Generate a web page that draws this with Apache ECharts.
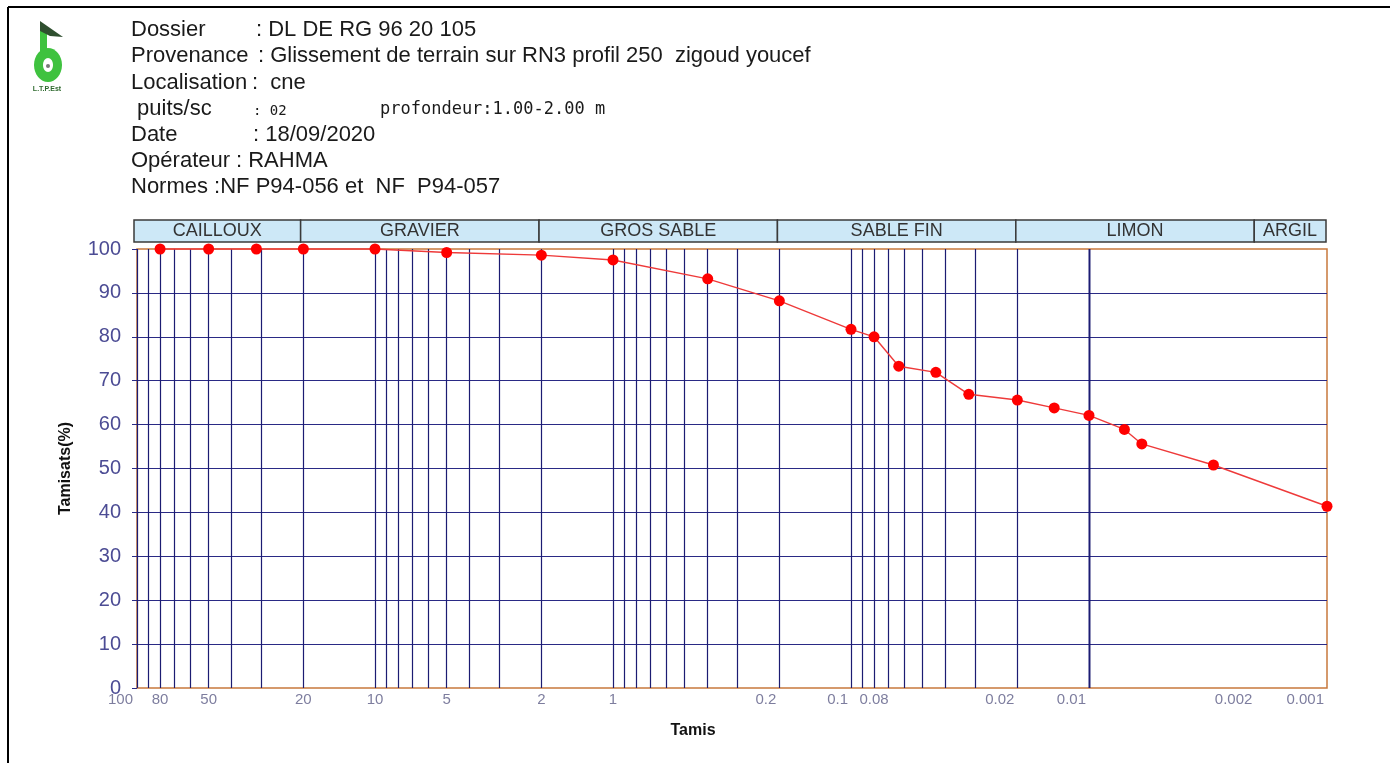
<!DOCTYPE html>
<html><head><meta charset="utf-8">
<script src="https://cdn.jsdelivr.net/npm/echarts@6/dist/echarts.min.js"></script>
<style>html,body{margin:0;padding:0;background:#fff}#c{width:1390px;height:763px}</style>
</head><body><div id="c"></div>
<script>
// ---- data ----
const sieveSizes = [80, 50, 31.5, 20, 10, 5, 2, 1, 0.4, 0.2, 0.1, 0.08, 0.063, 0.044, 0.032, 0.02, 0.014, 0.01, 0.0071, 0.006, 0.003, 0.001];
const passing    = [100, 100, 100, 100, 100, 99.2, 98.6, 97.5, 93.2, 88.2, 81.7, 80.0, 73.3, 71.9, 66.9, 65.6, 63.8, 62.1, 58.9, 55.6, 50.8, 41.4];
const gridSizes = [100, 90, 80, 70, 60, 50, 40, 30, 20, 10, 9, 8, 7, 6, 5, 4, 3, 2, 1, 0.9, 0.8, 0.7, 0.6, 0.5, 0.4, 0.3, 0.2,
                   0.1, 0.09, 0.08, 0.07, 0.06, 0.05, 0.04, 0.03, 0.02, 0.01, 0.009, 0.008, 0.007, 0.006, 0.005, 0.004, 0.003, 0.002];
const tickValues = [100, 80, 50, 20, 10, 5, 2, 1, 0.2, 0.1, 0.08, 0.02, 0.01, 0.002, 0.001];
const tickLabels = ['100', '80', '50', '20', '10', '5', '2', '1', '0.2', '0.1', '0.08', '0.02', '0.01', '0.002', '0.001'];
const bandNames = ['CAILLOUX', 'GRAVIER', 'GROS SABLE', 'SABLE FIN', 'LIMON', 'ARGIL'];
const bandBounds = [100, 20, 2, 0.2, 0.02, 0.002, 0.001];
const headerLabels = ['Dossier', 'Provenance', 'Localisation', ' puits/sc', 'Date', 'Opérateur', 'Normes :NF P94-056 et  NF  P94-057'];
const headerValues = [': DL DE RG 96 20 105', ': Glissement de terrain sur RN3 profil 250  zigoud youcef', ':  cne', ': 02', ': 18/09/2020', ': RAHMA', ''];
const depthText = 'profondeur:1.00-2.00 m';

// ---- layout ----
const FONT = 'Liberation Sans, Arial, sans-serif';
const headerY = [30, 56, 83, 109, 135, 161, 187];
const headerValueX = [256, 258, 252, 253, 253, 236, 0];

const chart = echarts.init(document.getElementById('c'), null, {renderer: 'canvas'});

const graphic = [
  {type: 'line', shape: {x1: 8, y1: 7, x2: 1390, y2: 7}, style: {stroke: '#000', lineWidth: 2}},
  {type: 'line', shape: {x1: 8, y1: 7, x2: 8, y2: 763}, style: {stroke: '#000', lineWidth: 2}},
  // logo
  {type: 'rect', shape: {x: 40, y: 30, width: 7, height: 32}, style: {fill: '#3fc23f'}},
  {type: 'ellipse', shape: {cx: 48, cy: 65, rx: 14, ry: 17}, style: {fill: '#3fc23f'}},
  {type: 'ellipse', shape: {cx: 48, cy: 65, rx: 5, ry: 7}, style: {fill: '#ffffff'}},
  {type: 'circle', shape: {cx: 48, cy: 66, r: 2}, style: {fill: '#777'}},
  {type: 'polygon', shape: {points: [[40, 21], [63, 37], [50, 36], [40, 31]]}, style: {fill: '#2f4f2f'}},
  {type: 'text', x: 47, y: 89, style: {text: 'L.T.P.Est', fill: '#2f6a2f', font: 'bold 7px ' + FONT, align: 'center', verticalAlign: 'middle'}},
];
headerLabels.forEach((t, i) => {
  graphic.push({type: 'text', x: 131, y: headerY[i], style: {text: t, fill: '#1a1a1a', font: '22px ' + FONT, verticalAlign: 'middle'}});
  if (!headerValues[i]) return;
  const small = i === 3;
  graphic.push({type: 'text', x: headerValueX[i], y: headerY[i] + (small ? 2 : 0), style: {text: headerValues[i], fill: '#1a1a1a', font: (small ? '14px DejaVu Sans Mono, monospace' : '22px ' + FONT), verticalAlign: 'middle'}});
});
graphic.push({type: 'text', x: 380, y: 110, style: {text: depthText, fill: '#1a1a1a', font: '17px DejaVu Sans Mono, monospace', verticalAlign: 'middle'}});

const tickData = tickValues.map((v, i) => {
  const lead = Number(v.toExponential().charAt(0));
  const right = v < 1 && (lead === 1 || lead === 2);
  const align = right ? 'right' : 'center';
  let off = right ? -3 : 0;
  if (v === 100) off = -4;
  return {value: [v, 0], label: {formatter: tickLabels[i], align: v === 100 ? 'right' : align, offset: [off, 0]}};
});

const option = {
  backgroundColor: '#fff',
  animation: false,
  graphic: graphic,
  grid: [
    {left: 137, right: 63, top: 249, bottom: 75, show: true, borderColor: '#c8783c', borderWidth: 1.5, backgroundColor: '#fff'},
    {left: 134, right: 64, top: 220, height: 22}
  ],
  xAxis: [
    {type: 'log', logBase: 10, min: 0.001, max: 100, inverse: true, gridIndex: 0,
     axisLine: {show: false}, axisTick: {show: false}, axisLabel: {show: false}, splitLine: {show: false},
     name: 'Tamis', nameLocation: 'middle', nameGap: 35,
     nameTextStyle: {color: '#111', fontWeight: 'bold', fontSize: 16, fontFamily: FONT, padding: [0, 78, 0, 0]}},
    {type: 'log', logBase: 10, min: 0.001, max: 100, inverse: true, gridIndex: 1, show: false}
  ],
  yAxis: [
    {type: 'value', min: 0, max: 100, interval: 10, gridIndex: 0,
     axisLine: {show: false},
     axisTick: {show: true, length: 5, lineStyle: {color: '#2a2a85'}},
     axisLabel: {color: '#4c4c94', fontSize: 20, fontFamily: FONT, margin: 16},
     splitLine: {show: true, showMinLine: false, showMaxLine: false, lineStyle: {color: '#2a2a85', width: 1.2}},
     name: 'Tamisats(%)', nameLocation: 'middle', nameGap: 63, nameRotate: 90,
     nameTextStyle: {color: '#111', fontWeight: 'bold', fontSize: 16, fontFamily: FONT}},
    {type: 'value', min: 0, max: 1, gridIndex: 1, show: false}
  ],
  series: [
    {
      name: 'grid', type: 'line', xAxisIndex: 0, yAxisIndex: 0, data: [], silent: true, z: 1,
      markLine: {
        silent: true, symbol: ['none', 'none'], animation: false,
        label: {show: false},
        lineStyle: {color: '#1c1c72', width: 1.2, type: 'solid'},
        emphasis: {disabled: true},
        data: gridSizes.map(v => ({xAxis: v}))
      }
    },
    {
      name: 'bands', type: 'line', xAxisIndex: 1, yAxisIndex: 1, data: [[1, 0.5]], symbol: 'none',
      lineStyle: {opacity: 0}, silent: true,
      markArea: {
        silent: true,
        itemStyle: {color: '#cde8f7', borderColor: '#3a3a3a', borderWidth: 1.5},
        label: {show: true, position: 'inside', color: '#333', fontSize: 18, fontFamily: FONT},
        emphasis: {disabled: true},
        data: bandNames.map((n, i) => [{name: n, xAxis: bandBounds[i]}, {xAxis: bandBounds[i + 1]}])
      }
    },
    {
      name: 'Tamisats', type: 'line', xAxisIndex: 0, yAxisIndex: 0, z: 5, clip: false,
      data: sieveSizes.map((s, i) => [s, passing[i]]),
      symbol: 'circle', symbolSize: 11,
      itemStyle: {color: '#ff0000'},
      lineStyle: {color: '#ee3a3a', width: 1.4}
    },
    {
      name: 'ticks', type: 'scatter', xAxisIndex: 0, yAxisIndex: 0, symbolSize: 0, silent: true, z: 6, clip: false,
      label: {show: true, position: 'bottom', distance: 4, color: '#5c5c86', fontSize: 15, fontFamily: FONT},
      data: tickData
    }
  ]
};
chart.setOption(option);
</script></body></html>
